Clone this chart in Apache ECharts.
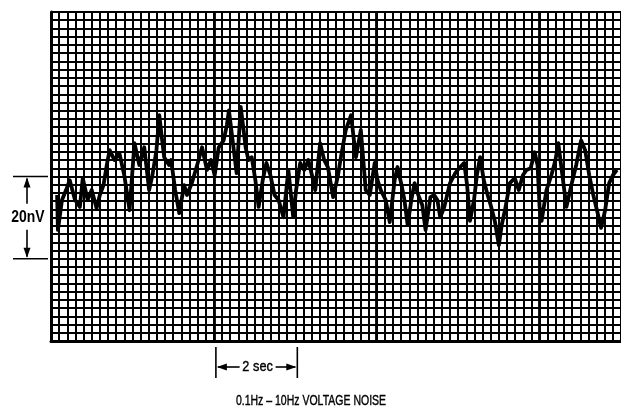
<!DOCTYPE html>
<html><head><meta charset="utf-8">
<script src="https://cdn.jsdelivr.net/npm/echarts@6/dist/echarts.min.js"></script>
<style>html,body{margin:0;padding:0;background:#fff;}#c{width:621px;height:407px;}</style>
</head><body><div id="c"></div>
<script>
// time (s) and noise voltage (nV)
const timeSec = [0.15,0.17,0.27,0.37,0.46,0.59,0.71,0.78,0.90,1.00,1.12,1.20,1.29,1.37,1.44,1.56,1.68,1.80,1.93,2.05,
2.17,2.29,2.41,2.49,2.59,2.66,2.73,2.78,2.90,2.95,3.05,3.15,3.27,3.34,3.46,3.59,3.71,3.83,3.93,4.02,
4.12,4.24,4.32,4.37,4.46,4.56,4.66,4.73,4.78,4.85,4.93,5.02,5.10,5.20,5.29,5.39,5.49,5.59,5.71,5.83,
5.95,6.02,6.12,6.22,6.32,6.41,6.49,6.61,6.71,6.80,6.93,7.05,7.12,7.24,7.37,7.44,7.49,7.61,7.68,7.73,
7.83,7.95,8.02,8.10,8.22,8.32,8.44,8.51,8.61,8.68,8.76,8.85,8.93,9.02,9.12,9.20,9.32,9.41,9.49,9.56,
9.66,9.73,9.80,9.93,10.02,10.15,10.22,10.29,10.39,10.46,10.54,10.63,10.71,10.80,10.90,11.00,11.07,11.15,11.27,11.39,
11.49,11.59,11.68,11.78,11.88,11.95,12.00,12.05,12.17,12.29,12.39,12.46,12.56,12.66,12.78,12.90,13.02,13.12,13.22,13.32,
13.41,13.51,13.61,13.71,13.80,13.90];
const noiseNV = [35.5,27.0,34.3,36.7,39.1,34.3,32.6,39.6,34.3,36.7,32.3,35.5,37.9,42.8,46.4,44.0,45.7,40.3,31.8,48.1,
42.8,47.1,36.7,40.3,46.4,54.9,48.8,44.7,42.8,44.0,36.7,31.1,37.9,35.5,38.4,42.8,47.1,41.6,44.0,40.3,
47.1,48.8,52.5,56.1,48.8,40.8,56.9,51.3,47.1,44.0,44.7,39.1,32.6,39.1,43.3,40.3,35.5,34.3,30.1,41.6,
30.1,36.7,43.3,41.6,44.0,40.3,36.7,48.1,44.0,42.3,35.0,40.3,44.7,51.3,54.9,48.8,44.7,51.3,42.8,36.7,
35.5,43.3,39.1,36.7,34.3,28.9,39.1,42.3,37.9,34.3,28.2,34.3,38.4,35.5,33.0,27.0,35.0,35.5,34.3,30.1,
32.6,35.5,38.4,40.8,42.0,43.3,37.9,29.2,34.3,40.3,44.7,39.1,36.0,33.0,29.2,23.3,28.2,31.8,38.4,39.6,
36.7,40.3,41.6,42.0,45.9,42.8,32.6,29.2,36.7,40.3,44.0,48.1,40.3,32.6,37.9,42.8,48.8,46.4,40.3,35.5,
31.8,27.5,31.8,38.4,40.3,41.6];
const xRange = [0, 14];      // seconds (0.2 s per small division)
const yRange = [0, 80];      // nV (2 nV per small division)
const scaleBar = {from: 20, to: 40, label: '20nV'};
const timeBar = {from: 4.05, to: 6.05, label: '2 sec'};
const titleText = '0.1Hz \u2013 10Hz VOLTAGE NOISE';

const FONT = "'Liberation Sans',Arial,sans-serif";
const chart = echarts.init(document.getElementById('c'));
const gridCol = '#000';
chart.setOption({
  animation: false,
  backgroundColor: '#fff',
  grid: {left: 51, top: 12, width: 574, height: 329},
  xAxis: [
    {type: 'value', min: xRange[0], max: xRange[1], interval: 0.2,
     axisLabel: {show: false}, axisTick: {show: false},
     axisLine: {show: true, onZero: false, lineStyle: {color: '#000', width: 3}},
     splitLine: {show: true, lineStyle: {color: gridCol, width: 2}}},
    {type: 'value', min: xRange[0], max: xRange[1], interval: 4, position: 'bottom',
     axisLabel: {show: false}, axisTick: {show: false}, axisLine: {show: false},
     splitLine: {show: true, lineStyle: {color: '#000', width: 2.8}}}
  ],
  yAxis: {type: 'value', min: yRange[0], max: yRange[1], interval: 2,
    axisLabel: {show: false}, axisTick: {show: false},
    axisLine: {show: true, onZero: false, lineStyle: {color: '#000', width: 3}},
    splitLine: {show: true, lineStyle: {color: gridCol, width: 2}}},
  series: [{
    type: 'line', xAxisIndex: 0, yAxisIndex: 0, showSymbol: false, symbol: 'none',
    data: timeSec.map((t, i) => [t, noiseNV[i]]),
    lineStyle: {color: '#000', width: 3.8, join: 'round'}, z: 5
  }]
});

const yT = chart.convertToPixel({yAxisIndex: 0}, scaleBar.to);
const yB = chart.convertToPixel({yAxisIndex: 0}, scaleBar.from);
const yM = (yT + yB) / 2;
const xL = chart.convertToPixel({xAxisIndex: 0}, timeBar.from);
const xR = chart.convertToPixel({xAxisIndex: 0}, timeBar.to);
const xM = (xL + xR) / 2;
const blk = {stroke: '#000', lineWidth: 1.6};
const g = [];
// 20nV scale bar
g.push({type: 'line', shape: {x1: 13, y1: yT, x2: 48, y2: yT}, style: blk});
g.push({type: 'line', shape: {x1: 13, y1: yB, x2: 48, y2: yB}, style: blk});
g.push({type: 'line', shape: {x1: 27, y1: yT + 2, x2: 27, y2: yM - 14}, style: blk});
g.push({type: 'line', shape: {x1: 27, y1: yM + 12, x2: 27, y2: yB - 2}, style: blk});
g.push({type: 'polygon', shape: {points: [[27, yT + 1], [23.5, yT + 11], [30.5, yT + 11]]}, style: {fill: '#000'}});
g.push({type: 'polygon', shape: {points: [[27, yB - 1], [23.5, yB - 11], [30.5, yB - 11]]}, style: {fill: '#000'}});
g.push({type: 'text', x: 28, y: yM, scaleX: 0.82, style: {text: scaleBar.label, fill: '#000', font: 'bold 17px ' + FONT, align: 'center', verticalAlign: 'middle'}});
// 2 sec bar
const yTB = 367;
g.push({type: 'line', shape: {x1: xL, y1: 347, x2: xL, y2: 378}, style: blk});
g.push({type: 'line', shape: {x1: xR, y1: 347, x2: xR, y2: 378}, style: blk});
g.push({type: 'line', shape: {x1: xL + 2, y1: yTB, x2: xM - 17, y2: yTB}, style: blk});
g.push({type: 'line', shape: {x1: xM + 19, y1: yTB, x2: xR - 2, y2: yTB}, style: blk});
g.push({type: 'polygon', shape: {points: [[xL + 1, yTB], [xL + 11, yTB - 3.5], [xL + 11, yTB + 3.5]]}, style: {fill: '#000'}});
g.push({type: 'polygon', shape: {points: [[xR - 1, yTB], [xR - 11, yTB - 3.5], [xR - 11, yTB + 3.5]]}, style: {fill: '#000'}});
g.push({type: 'text', x: xM + 1, y: yTB, scaleX: 0.85, style: {text: timeBar.label, fill: '#000', stroke: '#000', lineWidth: 0.4, font: '15px ' + FONT, align: 'center', verticalAlign: 'middle'}});
// title
g.push({type: 'text', x: 311, y: 401, scaleX: 0.7, style: {text: titleText, fill: '#000', stroke: '#000', lineWidth: 0.4, font: '15px ' + FONT, align: 'center', verticalAlign: 'middle'}});
chart.setOption({graphic: g});
</script></body></html>
